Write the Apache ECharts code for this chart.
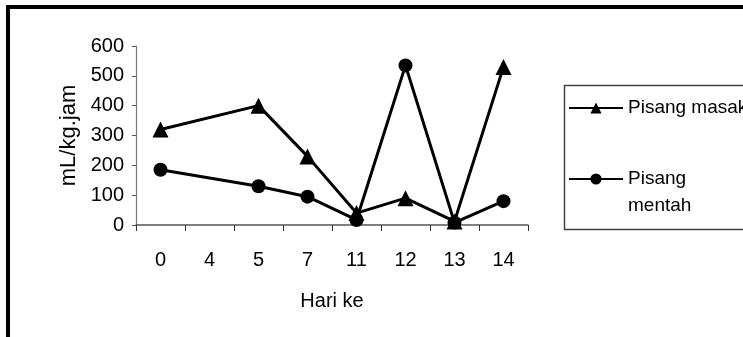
<!DOCTYPE html>
<html>
<head>
<meta charset="utf-8">
<script src="https://cdn.jsdelivr.net/npm/echarts@6/dist/echarts.min.js"></script>
<style>html,body{margin:0;padding:0;background:#fff;}#c{width:743px;height:337px;}</style>
</head>
<body>
<div id="c"></div>
<script>
var categories = ['0', '4', '5', '7', '11', '12', '13', '14'];
var masak = [320, null, 400, 230, 40, 90, 12, 530];
var mentah = [185, null, 130, 95, 17, 535, 8, 80];
var yTicks = [0, 100, 200, 300, 400, 500, 600];

var font = '"Liberation Sans", Arial, sans-serif';
var chart = echarts.init(document.getElementById('c'), null, {renderer: 'canvas'});
chart.setOption({
  animation: false,
  backgroundColor: '#fff',
  grid: {left: 136, top: 46, width: 392, height: 179, containLabel: false},
  xAxis: {
    type: 'category',
    data: categories,
    boundaryGap: true,
    name: 'Hari ke',
    nameLocation: 'middle',
    nameGap: 66,
    nameTextStyle: {fontFamily: font, fontSize: 20, color: '#000'},
    axisLine: {lineStyle: {color: '#555', width: 1.5}},
    axisTick: {show: true, length: 6, lineStyle: {color: '#333', width: 1}},
    axisLabel: {margin: 25, fontFamily: font, fontSize: 20, color: '#000'},
    splitLine: {show: false}
  },
  yAxis: {
    type: 'value',
    min: yTicks[0],
    max: yTicks[yTicks.length - 1],
    interval: 100,
    name: 'mL/kg.jam',
    nameLocation: 'middle',
    nameGap: 51,
    nameTextStyle: {fontFamily: font, fontSize: 22, color: '#000'},
    axisLine: {show: true, lineStyle: {color: '#777', width: 1.2}},
    axisTick: {show: true, length: 4, lineStyle: {color: '#555'}},
    axisLabel: {margin: 12, fontFamily: font, fontSize: 20, color: '#000'},
    splitLine: {show: false}
  },
  legend: [
    {
      orient: 'vertical', left: 568, top: 94.5, padding: 0,
      itemWidth: 54, itemHeight: 14, itemGap: 0,
      data: ['Pisang masak'],
      textStyle: {fontFamily: font, fontSize: 19, color: '#000', lineHeight: 27}
    },
    {
      orient: 'vertical', left: 568, top: 138.5, padding: 0,
      itemWidth: 54, itemHeight: 14, itemGap: 0,
      data: ['Pisang mentah'],
      formatter: function () { return ' \nPisang\nmentah'; },
      textStyle: {fontFamily: font, fontSize: 19, color: '#000', lineHeight: 27}
    }
  ],
  graphic: [
    {type: 'rect', shape: {x: 8, y: 7, width: 900, height: 500}, style: {fill: 'none', stroke: '#000', lineWidth: 4}, z: 100},
    {type: 'rect', shape: {x: 564.5, y: 85.5, width: 400, height: 144}, style: {fill: 'none', stroke: '#444', lineWidth: 1.5}, z: 100}
  ],
  series: [
    {
      name: 'Pisang masak', type: 'line', data: masak, connectNulls: true,
      symbol: 'triangle', symbolSize: 16,
      lineStyle: {color: '#000', width: 3},
      itemStyle: {color: '#000'}
    },
    {
      name: 'Pisang mentah', type: 'line', data: mentah, connectNulls: true,
      symbol: 'circle', symbolSize: 14,
      lineStyle: {color: '#000', width: 3},
      itemStyle: {color: '#000'}
    }
  ]
});
</script>
</body>
</html>
